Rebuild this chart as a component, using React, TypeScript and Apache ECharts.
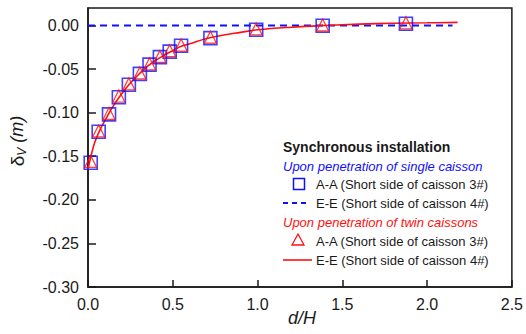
import React, { useEffect, useRef } from "react";
import * as echarts from "echarts";

// Data
const squareX = [0.016, 0.063, 0.124, 0.182, 0.241, 0.306, 0.363, 0.424, 0.482, 0.549, 0.722, 0.992, 1.384, 1.875];
const squareY = [-0.1575, -0.122, -0.102, -0.0823, -0.068, -0.0555, -0.045, -0.0364, -0.030, -0.0233, -0.0145, -0.005, -0.0003, 0.002];
const triX = [0.016, 0.063, 0.124, 0.182, 0.241, 0.306, 0.363, 0.424, 0.482, 0.549, 0.722, 0.992, 1.384, 1.875];
const triY = [-0.156, -0.121, -0.101, -0.081, -0.067, -0.0545, -0.044, -0.0355, -0.029, -0.0225, -0.0135, -0.004, 0.0005, 0.003];
const singleEEX = [0, 2.15];
const singleEEY = [0, 0];
const twinEEX = [0, 0.02, 0.04, 0.07, 0.1, 0.15, 0.2, 0.25, 0.3, 0.35, 0.4, 0.45, 0.5, 0.55, 0.6, 0.7, 0.8, 0.9, 1.0, 1.2, 1.4, 1.6, 1.8, 2.0, 2.18];
const twinEEY = [-0.165, -0.148, -0.134, -0.12, -0.109, -0.092, -0.078, -0.066, -0.056, -0.047, -0.04, -0.034, -0.029, -0.024, -0.021, -0.015, -0.011, -0.008, -0.005, -0.002, 0.0, 0.0015, 0.0025, 0.003, 0.0035];

const xTicks = [0, 0.5, 1.0, 1.5, 2.0, 2.5];
const yTicks = [-0.3, -0.25, -0.2, -0.15, -0.1, -0.05, 0];

const legendTitle = "Synchronous installation";
const groupSingle = "Upon penetration of single caisson";
const groupTwin = "Upon penetration of twin caissons";
const labelAA = "A-A (Short side of caisson 3#)";
const labelEE = "E-E (Short side of caisson 4#)";

const BLUE = "#1010ff";
const RED = "#ff1010";
const FONT = "'Liberation Sans', Arial, sans-serif";

const zip = (xs: number[], ys: number[]) => xs.map((x, i) => [x, ys[i]]);

export default function App() {
  const ref = useRef<HTMLDivElement>(null);
  useEffect(() => {
    if (!ref.current) return;
    const chart = echarts.init(ref.current, undefined, { renderer: "svg" });
    const lx = 283;
    const tx = 316;
    const txtStyle = (text: string, y: number, extra: any = {}) => ({
      type: "text",
      x: extra.x ?? tx,
      y,
      style: {
        text,
        fontSize: 13,
        fontFamily: FONT,
        fill: "#1a1a1a",
        verticalAlign: "middle",
        align: "left",
        ...(extra.style || {}),
      },
    });
    chart.setOption({
      animation: false,
      backgroundColor: "#ffffff",
      grid: {
        left: 88,
        top: 8,
        right: 13,
        bottom: 47,
        show: true,
        borderColor: "#1a1a1a",
        borderWidth: 1.5,
        backgroundColor: "transparent",
      },
      xAxis: {
        type: "value",
        min: 0,
        max: 2.5,
        interval: 0.5,
        axisLine: { onZero: false, lineStyle: { color: "#1a1a1a", width: 1.5 } },
        axisTick: { inside: true, length: 7, customValues: xTicks, lineStyle: { color: "#1a1a1a", width: 1.5 } },
        axisLabel: {
          margin: 9,
          fontSize: 16,
          fontFamily: FONT,
          color: "#1a1a1a",
          customValues: xTicks,
          formatter: (v: number) => v.toFixed(1),
        },
        splitLine: { show: false },
      },
      yAxis: {
        type: "value",
        min: -0.3,
        max: 0.02,
        interval: 0.05,
        axisLine: { onZero: false, lineStyle: { color: "#1a1a1a", width: 1.5 } },
        axisTick: { inside: true, length: 8, customValues: yTicks, lineStyle: { color: "#1a1a1a", width: 1.5 } },
        axisLabel: {
          margin: 9,
          fontSize: 16,
          fontFamily: FONT,
          color: "#1a1a1a",
          customValues: yTicks,
          formatter: (v: number) => (Math.abs(v) < 1e-9 ? "0.00" : v.toFixed(2)),
        },
        splitLine: { show: false },
      },
      series: [
        {
          type: "line",
          data: zip(singleEEX, singleEEY),
          symbol: "none",
          lineStyle: { color: BLUE, width: 2, type: [7, 5] },
          z: 2,
        },
        {
          type: "line",
          data: zip(twinEEX, twinEEY),
          symbol: "none",
          smooth: 0.4,
          lineStyle: { color: RED, width: 1.6 },
          z: 3,
        },
        {
          type: "scatter",
          data: zip(squareX, squareY),
          symbol: "rect",
          symbolSize: 13,
          itemStyle: { color: "rgba(255,255,255,0)", borderColor: BLUE, borderWidth: 1.6 },
          z: 4,
        },
        {
          type: "scatter",
          data: zip(triX, triY),
          symbol: "triangle",
          symbolSize: 12,
          itemStyle: { color: "rgba(255,255,255,0)", borderColor: RED, borderWidth: 1.3 },
          z: 5,
        },
      ],
      graphic: [
        {
          type: "text",
          x: 302,
          y: 318,
          style: {
            text: "d/H",
            fontSize: 18,
            fontStyle: "italic",
            fontFamily: FONT,
            fill: "#1a1a1a",
            align: "center",
            verticalAlign: "middle",
          },
        },
        {
          type: "text",
          x: 17,
          y: 141,
          rotation: Math.PI / 2,
          style: {
            text: "{a|δ}{b|V}{c| (m)}",
            align: "center",
            verticalAlign: "middle",
            fill: "#1a1a1a",
            rich: {
              a: { fontSize: 19, fontFamily: FONT, fill: "#1a1a1a" },
              b: { fontSize: 12, fontFamily: FONT, fontStyle: "italic", fill: "#1a1a1a", padding: [10, 0, 0, 0] },
              c: { fontSize: 18, fontFamily: FONT, fontStyle: "italic", fill: "#1a1a1a" },
            },
          },
        },
        txtStyle(legendTitle, 147, { x: lx, style: { fontWeight: "bold", fontSize: 14 } }),
        txtStyle(groupSingle, 166, { x: lx, style: { fontStyle: "italic", fill: BLUE } }),
        {
          type: "rect",
          shape: { x: 293.5, y: 178.5, width: 11, height: 11 },
          style: { fill: "none", stroke: BLUE, lineWidth: 1.5 },
        },
        txtStyle(labelAA, 184),
        {
          type: "line",
          shape: { x1: 283, y1: 203, x2: 308, y2: 203 },
          style: { stroke: BLUE, lineWidth: 2, lineDash: [5, 4] },
        },
        txtStyle(labelEE, 203),
        txtStyle(groupTwin, 222, { x: lx, style: { fontStyle: "italic", fill: RED } }),
        {
          type: "polygon",
          shape: { points: [[298, 234], [304, 245], [292, 245]] },
          style: { fill: "none", stroke: RED, lineWidth: 1.3 },
        },
        txtStyle(labelAA, 241),
        {
          type: "line",
          shape: { x1: 283, y1: 260, x2: 312, y2: 260 },
          style: { stroke: RED, lineWidth: 1.6 },
        },
        txtStyle(labelEE, 260),
      ],
    });
    return () => chart.dispose();
  }, []);
  return <div ref={ref} style={{ width: 526, height: 334, position: "absolute", left: 0, top: 0 }} />;
}
